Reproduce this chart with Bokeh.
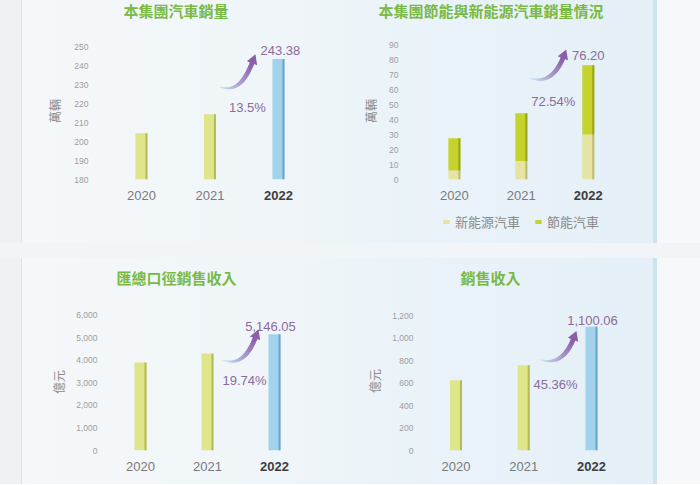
import math
import numpy as np
from bokeh.plotting import figure
from bokeh.models import (Range1d, FixedTicker, NumeralTickFormatter, LinearAxis,
                          Legend, LegendItem, Spacer)
from bokeh.layouts import row, column
from bokeh.embed import file_html
from bokeh.resources import INLINE

# ---------------- data ----------------
years = ["2020", "2021", "2022"]
group_sales = [204.4, 214.4, 243.38]          # 萬輛
ne_sales = [6.0, 12.4, 30.0]                  # 新能源汽車 萬輛
es_sales = [21.5, 31.8, 46.2]                 # 節能汽車 萬輛
agg_revenue = [3900, 4290, 5146.05]           # 億元 (匯總口徑)
revenue = [625, 757, 1100.06]                 # 億元
growth_labels = ["13.5%", "72.54%", "19.74%", "45.36%"]
titles = ["本集團汽車銷量", "本集團節能與新能源汽車銷量情況", "匯總口徑銷售收入", "銷售收入"]
unit_labels = ["萬輛", "萬輛", "億元", "億元"]
legend_labels = ["新能源汽車", "節能汽車"]
ticks_sales = [180, 190, 200, 210, 220, 230, 240, 250]
ticks_ne = [0, 10, 20, 30, 40, 50, 60, 70, 80, 90]
ticks_agg = [0, 1000, 2000, 3000, 4000, 5000, 6000]
ticks_rev = [0, 200, 400, 600, 800, 1000, 1200]

# ---------------- style ----------------
CJK = "Noto Sans CJK TC"
LAT = "Liberation Sans"
TITLE_C = "#79b945"
TICK_C = "#9d9d9d"
YEAR_C = "#7a7a7a"
BOLD_C = "#3d3d3d"
PURPLE = "#8b6b9c"
YEL = "#dfe58b"
YEL_EDGE = "#b3bb52"
BLUE = "#a3d3ec"
BLUE_EDGE = "#6aa5c6"
NE_C = "#e5e4a2"
NE_EDGE = "#bdbb70"
ES_C = "#c6d32c"
ES_EDGE = "#98a51a"
BG = "#f1f5f7"
xs = [1, 2, 3]


def style_xaxis(a, standoff):
    a.axis_line_color = None
    a.major_tick_line_color = None
    a.minor_tick_line_color = None
    a.major_tick_out = 0
    a.major_tick_in = 0
    a.major_label_standoff = standoff
    a.major_label_text_font = LAT
    a.major_label_text_font_size = "13px"


def make_fig(W, H, left, right, top, bottom, xr, yr, ticks, fmt, title,
             t_off, t_stand, ylab, ylab_stand, xlab_stand, bg_styles):
    p = figure(width=W, height=H, x_range=Range1d(*xr), y_range=Range1d(*yr),
               output_backend="svg", toolbar_location=None,
               min_border_left=left, min_border_right=right,
               min_border_top=top, min_border_bottom=bottom,
               background_fill_color=None, border_fill_color=None,
               outline_line_color=None, frame_align=False,
               styles=bg_styles)
    p.grid.visible = False
    p.title.text = title
    p.title.align = "left"
    p.title.offset = t_off
    p.title.standoff = t_stand
    p.title.text_font = CJK
    p.title.text_font_size = "15px"
    p.title.text_font_style = "bold"
    p.title.text_color = TITLE_C
    ya = p.yaxis[0]
    ya.ticker = FixedTicker(ticks=ticks)
    if fmt:
        ya.formatter = NumeralTickFormatter(format="0,0")
    ya.axis_line_color = None
    ya.major_tick_line_color = None
    ya.minor_tick_line_color = None
    ya.major_tick_out = 0
    ya.major_tick_in = 0
    ya.major_label_standoff = 5
    ya.major_label_text_font = LAT
    ya.major_label_text_font_size = "8.5px"
    ya.major_label_text_color = TICK_C
    ya.axis_label = ylab
    ya.axis_label_text_font = CJK
    ya.axis_label_text_font_style = "normal"
    ya.axis_label_text_font_size = "12px"
    ya.axis_label_text_color = "#8c8c8c"
    ya.axis_label_standoff = ylab_stand
    # regular year labels
    xa = p.xaxis[0]
    xa.ticker = FixedTicker(ticks=xs)
    xa.major_label_overrides = {1: years[0], 2: years[1], 3: ""}
    style_xaxis(xa, xlab_stand)
    xa.major_label_text_color = YEAR_C
    # bold label for the latest year, pulled up onto the same line
    xb = LinearAxis(ticker=FixedTicker(ticks=[3]),
                    major_label_overrides={3: years[2]})
    style_xaxis(xb, xlab_stand - 23)
    xb.major_label_text_font_style = "bold"
    xb.major_label_text_color = BOLD_C
    p.add_layout(xb, "below")
    return p


def ppu(p):
    fw = p.width - p.min_border_left - p.min_border_right
    fh = p.height - p.min_border_top - p.min_border_bottom
    return (fw / (p.x_range.end - p.x_range.start),
            fh / (p.y_range.end - p.y_range.start))


def bars(p, vals, base, colors, edges):
    px, py = ppu(p)
    w = 12 / px
    e = 2 / px
    p.vbar(x=xs, bottom=base, top=vals, width=w, fill_color=colors, line_color=None)
    p.vbar(x=[x + w / 2 - e / 2 for x in xs], bottom=base, top=vals, width=e,
           fill_color=edges, line_color=None)


def arrow(p, bx, by, tail, head):
    px, py = ppu(p)
    P0 = np.array(tail, float)
    P3 = np.array(head, float)
    P1 = P0 + np.array([18.0, 6.0])
    P2 = P3 + np.array([-5.0, 13.0])
    t = np.linspace(0, 1, 26)[:, None]
    pts = ((1 - t) ** 3) * P0 + 3 * (1 - t) ** 2 * t * P1 + 3 * (1 - t) * t ** 2 * P2 + t ** 3 * P3
    c0 = np.array([200, 226, 242])
    c1 = np.array([140, 96, 172])
    x0, y0, x1, y1, cols, wids = [], [], [], [], [], []
    n = len(pts) - 1
    for i in range(n):
        f = i / (n - 1)
        x0.append(bx + pts[i, 0] / px)
        y0.append(by - pts[i, 1] / py)
        x1.append(bx + pts[i + 1, 0] / px)
        y1.append(by - pts[i + 1, 1] / py)
        c = (c0 + (c1 - c0) * f).astype(int)
        cols.append("#%02x%02x%02x" % tuple(c))
        wids.append(1.0 + 3.5 * math.sin(min(f * 1.3, 1.0) * math.pi / 2))
    p.segment(x0=x0, y0=y0, x1=x1, y1=y1, line_color=cols, line_width=wids,
              line_cap="round")
    d = P3 - P2
    d = d / np.hypot(*d)
    ang = math.atan2(-d[0], -d[1])
    hx = P3 + d * 2
    p.scatter(x=[bx + hx[0] / px], y=[by - hx[1] / py], marker="triangle",
              size=11, angle=ang, fill_color="#8a5fa8", line_color=None)


def annot(p, vals, glabel, val_off, g_off, tail, head):
    # offsets in screen pixels relative to the top of the latest bar (dy > 0: down)
    px, py = ppu(p)
    top = vals[2]
    p.text(x=[3 + val_off[0] / px], y=[top - val_off[1] / py],
           text=[f"{vals[2]:,.2f}"], text_align="center", text_baseline="middle",
           text_font={"value": LAT}, text_font_size="13px", text_color=PURPLE)
    p.text(x=[3 + g_off[0] / px], y=[top - g_off[1] / py], text=[glabel],
           text_align="center", text_baseline="middle",
           text_font={"value": LAT}, text_font_size="13px", text_color=PURPLE)
    arrow(p, 3, top, tail, head)


def title_standoff(frame_top, title_center):
    # empirical placement of Bokeh's title for this font size
    return int(round(2 * (frame_top - 9 - title_center)))


G1 = "linear-gradient(90deg, #f5f8fa 0%, #edf4f8 100%)"
G2 = "linear-gradient(90deg, #ecf4f9 0%, #e4eff7 100%)"
LIFT = 27            # top row is lifted so that its titles sit near the top edge
LIFT2 = 22           # bottom row lifted; its top band stays transparent
TOP_H = 243 + LIFT
BOT_H = 226 + LIFT2
FB = 179 + LIFT      # frame bottom of the top-row charts (figure px)
FT = 42 + LIFT       # frame top of the top-row charts (figure px)
P2_H = 210 + LIFT
LEG_H = TOP_H - P2_H
FB2 = 192 + LIFT2    # frame bottom of the bottom-row charts


def full(img):
    return {"background": img}


def banded(img):
    # paint only below the transparent top band of the lifted bottom row
    return {"background-image": img, "background-repeat": "no-repeat",
            "background-position": f"0px {LIFT2}px",
            "background-size": f"100% calc(100% - {LIFT2}px)"}


def solid(c):
    return f"linear-gradient({c}, {c})"


# --- panel 1: group vehicle sales ---
p1 = make_fig(328, TOP_H, 71, 20, FT, TOP_H - FB, (0.30, 3.76),
              (180, 180 + (FB - FT) / 1.9), ticks_sales, False, titles[0], 30,
              title_standoff(FT, 11 + LIFT), unit_labels[0], 8, 11, full(G1))
bars(p1, group_sales, ticks_sales[0], [YEL, YEL, BLUE], [YEL_EDGE, YEL_EDGE, BLUE_EDGE])
annot(p1, group_sales, growth_labels[0], (2, -9), (-31, 48), (-58, 28), (-26, 3))

# --- panel 2: energy-saving & new-energy sales (stacked) ---
p2 = make_fig(303, P2_H, 53, 13, FT, P2_H - FB, (0.24, 3.78),
              (0, (FB - FT) / 1.5), ticks_ne, False, titles[1], -25,
              title_standoff(FT, 11 + LIFT), unit_labels[1], 7, 11, full(G2))
px2, py2 = ppu(p2)
w2 = 12 / px2
e2 = 2 / px2
tot = [a + b for a, b in zip(ne_sales, es_sales)]
p2.vbar(x=xs, bottom=0, top=ne_sales, width=w2, fill_color=NE_C, line_color=None)
p2.vbar(x=xs, bottom=ne_sales, top=tot, width=w2, fill_color=ES_C, line_color=None)
p2.vbar(x=[x + w2 / 2 - e2 / 2 for x in xs], bottom=0, top=ne_sales, width=e2,
        fill_color=NE_EDGE, line_color=None)
p2.vbar(x=[x + w2 / 2 - e2 / 2 for x in xs], bottom=ne_sales, top=tot, width=e2,
        fill_color=ES_EDGE, line_color=None)
annot(p2, tot, growth_labels[1], (0, -10), (-35, 36), (-58, 13), (-25, -8))

# legend strip under panel 2 (legend swatches use zero-height proxy bars)
pl = figure(width=303, height=LEG_H, x_range=Range1d(0, 1), y_range=Range1d(0, 1),
            output_backend="svg", toolbar_location=None, x_axis_type=None,
            y_axis_type=None, min_border=0, background_fill_color=None,
            border_fill_color=None, outline_line_color=None, frame_align=False,
            styles=full(G2))
pl.grid.visible = False
r_ne = pl.vbar(x=[0.5], bottom=[0], top=[0], width=0.01, fill_color=NE_C, line_color=None)
r_es = pl.vbar(x=[0.5], bottom=[0], top=[0], width=0.01, fill_color=ES_C, line_color=None)
leg = Legend(items=[LegendItem(label=legend_labels[0], renderers=[r_ne]),
                    LegendItem(label=legend_labels[1], renderers=[r_es])],
             orientation="horizontal", location=(92, 12),
             background_fill_color=None, border_line_color=None,
             margin=0, padding=4, spacing=14, label_standoff=5,
             glyph_width=8, glyph_height=5, label_height=14,
             label_text_font=CJK, label_text_font_size="13px",
             label_text_color="#8a8a8a")
pl.add_layout(leg)

# --- panel 3: aggregated revenue ---
FT3 = 313 - 258 + LIFT2
p3 = make_fig(328, BOT_H, 80, 20, FT3, BOT_H - FB2, (0.433, 0.433 + 228 / 67.0),
              (0, (FB2 - FT3) * 6000 / 135.5), ticks_agg, True, titles[2], 14,
              title_standoff(FT3, 20 + LIFT2), unit_labels[2], 6, 11, banded(G1))
bars(p3, agg_revenue, 0, [YEL, YEL, BLUE], [YEL_EDGE, YEL_EDGE, BLUE_EDGE])
annot(p3, agg_revenue, growth_labels[2], (-4, -8), (-30, 46), (-51, 26), (-19, 3))

# --- panel 4: revenue ---
FT4 = 311 - 258 + LIFT2
p4 = make_fig(303, BOT_H, 68, 13, FT4, BOT_H - FB2, (0.447, 0.447 + 222 / 67.75),
              (0, (FB2 - FT4) * 1200 / 135), ticks_rev, True, titles[3], 42,
              title_standoff(FT4, 20 + LIFT2), unit_labels[3], 6, 11, banded(G2))
bars(p4, revenue, 0, [YEL, YEL, BLUE], [YEL_EDGE, YEL_EDGE, BLUE_EDGE])
annot(p4, revenue, growth_labels[3], (1, -6), (-36, 58), (-51, 33), (-18, 12))


def sp(w, h, st):
    return Spacer(width=w, height=h, styles=st)


r1 = row(sp(21, TOP_H, full(solid("#eef2f5"))), sp(1, TOP_H, full(solid("#dde5ea"))),
         p1, column(p2, pl),
         sp(4, TOP_H, full(solid("#cfe3ef"))), sp(43, TOP_H, full(solid("#f6f8f9"))),
         styles={"margin-top": f"-{LIFT}px"})
gap = sp(700, 15, full(solid(BG)))
r2 = row(sp(21, BOT_H, banded(solid("#eef2f5"))), sp(1, BOT_H, banded(solid("#dde5ea"))),
         p3, p4,
         sp(4, BOT_H, banded(solid("#cfe3ef"))), sp(43, BOT_H, banded(solid("#f6f8f9"))),
         styles={"margin-top": f"-{LIFT2}px"})
layout = column(r1, gap, r2, styles={"background-color": BG})

open("out.html", "w").write(file_html(layout, INLINE))
